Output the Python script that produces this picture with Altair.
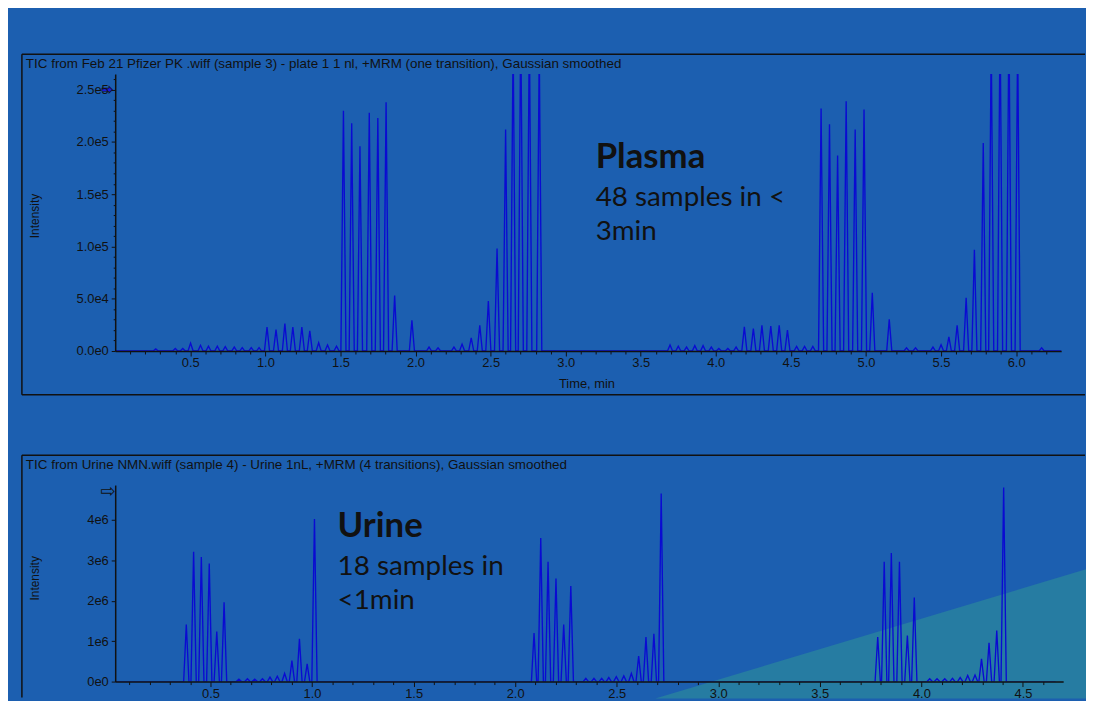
import altair as alt
import pandas as pd

# ---------------- data ----------------
# Top panel (Plasma): peak retention times (min) and apex intensities
plasma_t = [0.27, 0.40, 0.45, 0.502, 0.568, 0.621, 0.680, 0.733, 0.793, 0.846, 0.906, 0.958,
            1.011, 1.071, 1.130, 1.183, 1.243, 1.296, 1.355, 1.414, 1.474,
            1.520, 1.575, 1.630, 1.692, 1.749, 1.804, 1.861, 1.976,
            2.09, 2.15, 2.256, 2.31,
            2.371, 2.428, 2.485, 2.543, 2.600, 2.650, 2.701, 2.758, 2.824,
            3.695, 3.75, 3.805, 3.86, 3.915, 3.97, 4.02, 4.08, 4.135,
            4.190, 4.250, 4.307, 4.366, 4.422, 4.477,
            4.538, 4.591, 4.646,
            4.701, 4.757, 4.811, 4.868, 4.928, 4.987, 5.042, 5.155,
            5.27, 5.33, 5.446, 5.50,
            5.552, 5.607, 5.667, 5.722, 5.781, 5.834, 5.893, 5.952, 6.010,
            6.17]
plasma_h = [2000, 2500, 2500, 7600, 5500, 4700, 4700, 4200, 3800, 3300, 3300, 3300,
            23000, 20600, 26300, 23000, 23000, 19300, 7900, 5700, 4700,
            230000, 218000, 196000, 228000, 223000, 238000, 53000, 29500,
            3800, 3000, 3800, 6600,
            12600, 24700, 47800, 98200, 212000, 300000, 320000, 310000, 290000,
            5700, 4700, 3800, 5200, 5200, 3800, 2500, 2500, 3800,
            23100, 21600, 24700, 23800, 24700, 20000,
            4500, 4500, 4500,
            232000, 217000, 187000, 239000, 212000, 231000, 55800, 30400,
            3000, 3000, 3800, 6000,
            13600, 24700, 51000, 97000, 199000, 300000, 320000, 320000, 300000,
            3000]

# Bottom panel (Urine)
urine_t = [0.381, 0.417, 0.455, 0.494, 0.531, 0.567,
           0.640, 0.682, 0.718, 0.756, 0.793, 0.829, 0.865,
           0.901, 0.938, 0.976, 1.012,
           2.093, 2.126, 2.162, 2.201, 2.239, 2.274,
           2.348, 2.388, 2.426, 2.461, 2.498, 2.535, 2.572,
           2.608, 2.644, 2.683, 2.719,
           3.785, 3.817, 3.852, 3.892, 3.931, 3.965,
           4.041, 4.077, 4.115, 4.153, 4.191, 4.228, 4.264,
           4.296, 4.333, 4.371, 4.405]
urine_h = [1.41e6, 3.21e6, 3.08e6, 2.92e6, 1.24e6, 1.96e6,
           0.06e6, 0.07e6, 0.06e6, 0.07e6, 0.11e6, 0.13e6, 0.20e6,
           0.52e6, 1.06e6, 0.44e6, 4.02e6,
           1.20e6, 3.55e6, 2.96e6, 2.55e6, 1.41e6, 2.36e6,
           0.08e6, 0.08e6, 0.08e6, 0.10e6, 0.12e6, 0.14e6, 0.20e6,
           0.63e6, 1.10e6, 1.18e6, 4.65e6,
           1.10e6, 2.96e6, 3.18e6, 2.96e6, 1.14e6, 2.08e6,
           0.07e6, 0.07e6, 0.07e6, 0.08e6, 0.10e6, 0.15e6, 0.16e6,
           0.56e6, 0.96e6, 1.26e6, 4.80e6]

top_x_ticks = [round(0.1 * i, 1) for i in range(1, 63)]
top_y_ticks = list(range(0, 260001, 10000))
bot_x_ticks = [round(0.1 * i, 1) for i in range(1, 47)]
bot_y_ticks = [0, 1e6, 2e6, 3e6, 4e6]

# teal decoration triangle corners (bottom panel data space)
tri_x = [2.69, 4.84]
tri_y = [-0.42e6, 2.82e6]

top_title = "TIC from Feb 21 Pfizer PK .wiff (sample 3) - plate 1  1 nl, +MRM (one transition), Gaussian smoothed"
bot_title = "TIC from Urine NMN.wiff (sample 4) - Urine 1nL, +MRM (4 transitions), Gaussian smoothed"


def trace(times, heights, t0, t1, hw):
    rows = [(t0, 0.0)]
    for t, h in zip(times, heights):
        rows += [(t - hw, 0.0), (t, h), (t + hw, 0.0)]
    rows.append((t1, 0.0))
    return pd.DataFrame(rows, columns=["time", "intensity"])


BG = "#1c5fb0"
INK = "#111111"
TRACE = "#0a0ad2"
FONT = "Liberation Sans"
ANN = "Lato"
one = pd.DataFrame({"k": [0]})
half_test = "abs(datum.value*2 - round(datum.value*2)) < 0.001"


def x_axis(vals):
    return alt.Axis(values=vals, title=None, grid=False, labelFlush=False, labelOverlap=False,
                    labelExpr=f"{half_test} ? format(datum.value, '.1f') : ''",
                    tickSize={"condition": {"test": half_test, "value": 5}, "value": 3},
                    domainColor=INK, tickColor=INK, domainWidth=1.5, tickWidth=1, zindex=1,
                    labelColor=INK, labelFont=FONT, labelFontSize=13, labelPadding=1)


def deco(text, x, y, size=13, font=FONT, weight="normal", angle=0, color=INK,
         baseline="middle", stroke=None):
    kw = dict(text=text, font=font, fontSize=size, fontWeight=weight, color=color,
              align="left" if angle == 0 else "center", baseline=baseline)
    if angle:
        kw["angle"] = angle
    if stroke:
        kw["stroke"] = stroke
        kw["strokeWidth"] = 0.7
    return alt.Chart(one).mark_text(**kw).encode(x=alt.value(x), y=alt.value(y))


def rule(x, x2, y, y2=None):
    enc = dict(x=alt.value(x), y=alt.value(y))
    if x2 is not None:
        enc["x2"] = alt.value(x2)
    if y2 is not None:
        enc["y2"] = alt.value(y2)
    return alt.Chart(one).mark_rule(color=INK, strokeWidth=1.5).encode(**enc)


# ---------------- top panel ----------------
W1, H1 = 953, 279
xs1 = alt.Scale(domain=[0, 6.3], nice=False, zero=False)
ys1 = alt.Scale(domain=[0, 265000], nice=False)
top_line = alt.Chart(trace(plasma_t, plasma_h, 0.0, 6.3, 0.017)).mark_line(
    color=TRACE, strokeWidth=1.35, clip=True).encode(
    x=alt.X("time:Q", scale=xs1, axis=x_axis(top_x_ticks)),
    y=alt.Y("intensity:Q", scale=ys1, axis=alt.Axis(
        values=top_y_ticks, title=None, grid=False, labelOverlap=False, labelFlush=False,
        labelExpr="datum.value % 50000 == 0 ? replace(format(datum.value, '.1e'), '+', '') : ''",
        tickSize={"condition": {"test": "datum.value % 50000 == 0", "value": 4}, "value": 2},
        domainColor=INK, tickColor=INK, domainWidth=1.5, labelColor=INK, zindex=1,
        labelFont=FONT, labelFontSize=13, labelPadding=3)),
)
top = alt.layer(
    rule(-94, 977, -20), rule(-94, 977, 323), rule(-94, None, -20, 323),
    top_line,
    deco(top_title, -90, -10, size=13.5),
    deco("Intensity", -81, 143, size=12, angle=270),
    deco("Time, min", 447, 312),
    deco("➡", -14, 16, size=14, font="DejaVu Sans", color="#1a1ae0", stroke="#111111"),
    deco("Plasma", 484, 95, size=35, font=ANN, weight="bold", baseline="alphabetic"),
    deco("48 samples in <", 484, 133, size=28, font=ANN, baseline="alphabetic"),
    deco("3min", 484, 167, size=28, font=ANN, baseline="alphabetic"),
).properties(width=W1, height=H1)

# ---------------- bottom panel ----------------
W2, H2 = 955, 198
xs2 = alt.Scale(domain=[0.031, 4.698], nice=False, zero=False)
ys2 = alt.Scale(domain=[0, 4.86e6], nice=False)
bx_axis = x_axis(bot_x_ticks)
by_axis = alt.Axis(
    values=bot_y_ticks, title=None, grid=False, labelOverlap=False, labelFlush=False,
    labelExpr="replace(format(datum.value, '.0e'), '+', '')", tickSize=4,
    domainColor=INK, tickColor=INK, domainWidth=1.5, labelColor=INK, zindex=1,
    labelFont=FONT, labelFontSize=13, labelPadding=3)
tri = alt.Chart(pd.DataFrame({"tx": tri_x, "ty": tri_y, "tb": [tri_y[0]] * 2})).mark_area(
    color="#267ca2", opacity=1).encode(
    x=alt.X("tx:Q", scale=xs2, axis=bx_axis),
    y=alt.Y("ty:Q", scale=ys2, axis=by_axis), y2="tb:Q")
bot_line = alt.Chart(trace(urine_t, urine_h, 0.031, 4.66, 0.013)).mark_line(
    color=TRACE, strokeWidth=1.35, clip=True).encode(
    x=alt.X("time:Q", scale=xs2, axis=bx_axis),
    y=alt.Y("intensity:Q", scale=ys2, axis=by_axis),
)
bottom = alt.layer(
    tri,
    rule(-94, 977, -30), rule(-94, None, -30, 214),
    bot_line,
    deco(bot_title, -90, -20, size=13.5),
    deco("Intensity", -81, 94, size=12, angle=270),
    deco("⇨", -15, 7, size=18, font="DejaVu Sans"),
    deco("Urine", 224, 52, size=35, font=ANN, weight="bold", baseline="alphabetic"),
    deco("18 samples in", 224, 91, size=28, font=ANN, baseline="alphabetic"),
    deco("<1min", 224, 125, size=28, font=ANN, baseline="alphabetic"),
).properties(width=W2, height=H2)

chart = alt.vconcat(top, bottom, spacing=135, bounds="flush").properties(
    padding={"left": 108, "top": 64, "right": 978, "bottom": 629},
    autosize=alt.AutoSizeParams(type="none"),
).configure(background=BG).configure_view(stroke=None)

chart.save("out.html", embed_options={"renderer": "svg", "actions": False})
